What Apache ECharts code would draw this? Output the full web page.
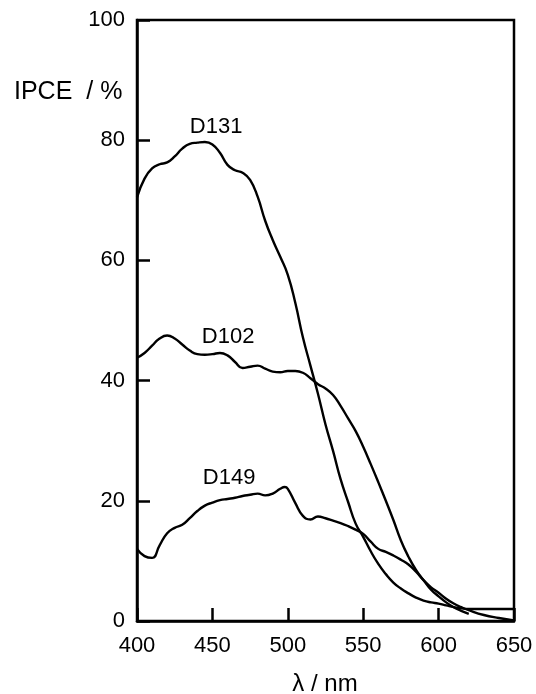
<!DOCTYPE html>
<html>
<head>
<meta charset="utf-8">
<script src="https://cdn.jsdelivr.net/npm/echarts@6/dist/echarts.min.js"></script>
<style>
  html, body { margin: 0; padding: 0; background: #fff; }
  #chart { width: 536px; height: 694px; }
</style>
</head>
<body>
<div id="chart"></div>
<script>
// Wavelength (nm) sampling points for each dye's IPCE spectrum
const wlD131 = [400,405,410,415,420,425,430,435,440,445,450,455,460,465,470,475,480,485,490,495,500,505,510,515,520,525,530,535,540,545,550,555,560,565,570,575,580,585,590,595,600,605,610,615,620,630,640,650];
const ipceD131 = [70.5,73.6,75.3,76.0,76.3,77.3,78.6,79.4,79.6,79.7,79.3,77.9,75.9,75.0,74.6,73.4,70.6,66.6,63.4,60.6,57.6,52.9,47.2,42.5,37.8,32.7,28.3,23.6,19.8,16.2,14.0,11.6,9.5,7.8,6.4,5.4,4.6,3.9,3.4,3.1,2.9,2.6,2.3,2.1,2.0,2.0,2.0,2.0];

const wlD102 = [400,405,410,415,420,425,430,435,440,445,450,455,460,465,470,475,480,485,490,495,500,505,510,515,520,525,530,535,540,545,550,555,560,565,570,575,580,585,590,595,600,605,610,615,620];
const ipceD102 = [43.8,44.6,45.8,47.0,47.5,47.0,46.0,45.0,44.4,44.3,44.4,44.6,44.2,43.1,42.1,42.3,42.5,42.0,41.5,41.4,41.6,41.6,41.3,40.4,39.4,38.7,37.6,35.8,33.7,31.6,29.0,26.1,23.1,20.0,16.8,13.4,10.7,8.5,6.8,5.2,4.1,3.1,2.3,1.7,1.2];

const wlD149 = [400,405,410,415,420,425,430,435,440,445,450,455,460,465,470,475,480,485,490,495,498,500,505,510,515,520,525,530,535,540,545,550,555,560,565,570,575,580,585,590,595,600,605,610,615,620,630,640,650];
const ipceD149 = [12.0,10.8,10.5,12.6,14.6,15.5,16.0,17.1,18.3,19.2,19.7,20.1,20.3,20.5,20.8,21.0,21.2,20.9,21.2,22.0,22.3,22.0,19.6,17.5,16.9,17.4,17.1,16.7,16.3,15.8,15.2,14.5,13.2,12.0,11.5,10.9,10.2,9.4,8.2,6.8,5.6,4.7,3.7,2.9,2.3,1.8,1.0,0.5,0.1];

// Axis ticks
const xTicks = { min: 400, max: 650, interval: 50 };
const yTicks = { min: 0, max: 100, interval: 20 };

// Curve labels, anchored in data coordinates
const curveLabels = [
  { text: 'D131', at: [452.5, 82.2] },
  { text: 'D102', at: [460.4, 47.3] },
  { text: 'D149', at: [461.1, 23.8] }
];

const FONT = '"Liberation Sans", Arial, sans-serif';

function pairs(xs, ys) { return xs.map((x, i) => [x, ys[i]]); }

const chart = echarts.init(document.getElementById('chart'), null, { renderer: 'canvas' });

function lineSeries(name, xs, ys) {
  return {
    name: name,
    type: 'line',
    data: pairs(xs, ys),
    smooth: 0.5,
    showSymbol: false,
    symbol: 'none',
    lineStyle: { color: '#000', width: 2.4 },
    animation: false,
    z: 3
  };
}

chart.setOption({
  animation: false,
  backgroundColor: '#fff',
  grid: {
    left: 137, right: 22, top: 20, bottom: 73,
    show: true, borderColor: '#000', borderWidth: 2.5, backgroundColor: 'transparent'
  },
  xAxis: {
    type: 'value',
    min: xTicks.min, max: xTicks.max, interval: xTicks.interval,
    axisLine: { show: true, lineStyle: { color: '#000', width: 2.5 } },
    axisTick: { show: true, inside: true, length: 13, lineStyle: { color: '#000', width: 2.5 } },
    axisLabel: { color: '#000', fontSize: 22, fontFamily: FONT, margin: 14 },
    splitLine: { show: false }
  },
  yAxis: {
    type: 'value',
    min: yTicks.min, max: yTicks.max, interval: yTicks.interval,
    axisLine: { show: true, lineStyle: { color: '#000', width: 2.5 } },
    axisTick: { show: true, inside: true, length: 13, lineStyle: { color: '#000', width: 2.5 } },
    axisLabel: { color: '#000', fontSize: 22, fontFamily: FONT, margin: 12 },
    splitLine: { show: false }
  },
  series: [
    lineSeries('D131', wlD131, ipceD131),
    lineSeries('D102', wlD102, ipceD102),
    lineSeries('D149', wlD149, ipceD149)
  ]
});

// Axis titles and curve names
const graphics = [
  {
    type: 'text', left: 14, top: 80,
    style: { text: 'IPCE  / %', fill: '#000', fontSize: 25, fontFamily: FONT }
  },
  {
    type: 'text', x: 325, y: 684,
    style: { text: '\u03bb / nm', fill: '#000', fontSize: 24, fontFamily: FONT, align: 'center', verticalAlign: 'middle' }
  }
];
curveLabels.forEach(l => {
  const p = chart.convertToPixel({ gridIndex: 0 }, l.at);
  graphics.push({
    type: 'text', x: p[0], y: p[1],
    style: { text: l.text, fill: '#000', fontSize: 22, fontFamily: FONT, align: 'center', verticalAlign: 'middle' }
  });
});
chart.setOption({ graphic: graphics });
</script>
</body>
</html>
